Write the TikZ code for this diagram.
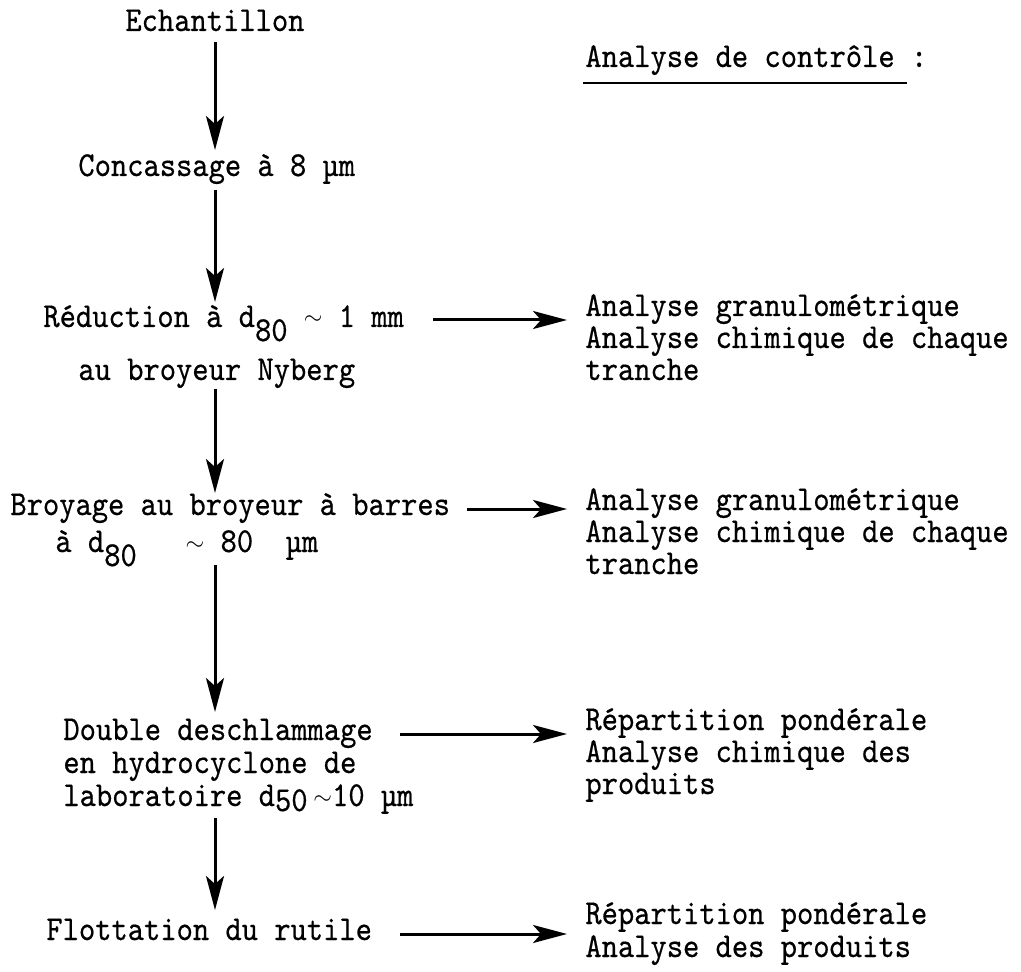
\documentclass[tikz,border=0pt]{standalone}
\usepackage{fontspec}
\setmonofont{lmmono10-regular.otf}[FakeStretch=0.886,FakeBold=0.5]
\usetikzlibrary{arrows.meta}
\newcommand\typefs{\ttfamily\fontsize{17.5}{18}\selectfont}
\newcommand\tld{\raisebox{1pt}{$\scriptstyle\sim$}}
\newcommand\sub[1]{\raisebox{-7pt}{#1}}
\tikzset{
  txt/.style={anchor=base west, inner sep=0pt, font=\typefs},
  arr/.style={line width=1.5pt, -{Stealth[length=17pt,width=9pt,inset=4pt]}},
}
\begin{document}
\begin{tikzpicture}[x=0.5pt,y=-0.5pt]
\useasboundingbox (0,0) rectangle (1021,972);
% left column
\node[txt] (ech) at (125,31) {Echantillon};
\node[txt] (conc) at (78,176) {Concassage à 8 µm};
\node[txt] (red) at (43,327) {Réduction à d\sub{80} \tld{} 1 mm};
\node[txt] (nyb) at (78,380) {au broyeur Nyberg};
\node[txt] (broy) at (10,515) {Broyage au broyeur à barres};
\node[txt] (broyb) at (55,552) {à d\sub{80}\ \ \ \tld\ 80\ \ µm};
\node[txt] (dbl) at (63,740) {Double deschlammage};
\node[txt] (dblb) at (63,773) {en hydrocyclone de};
\node[txt] (dblc) at (63,806) {laboratoire d\raisebox{-2.5pt}{50}\,\tld10 µm};
\node[txt] (flot) at (46,940) {Flottation du rutile};
% right column
\node[txt] (ctl) at (585,67) {Analyse de contrôle :};
\coordinate (ul1) at (583,83);
\coordinate (ul2) at (907,83);
\draw[line width=1pt] (ul1) -- (ul2);
\node[txt] (g1a) at (585,316) {Analyse granulométrique};
\node[txt] (g1b) at (585,348) {Analyse chimique de chaque};
\node[txt] (g1c) at (585,380) {tranche};
\node[txt] (g2a) at (585,510) {Analyse granulométrique};
\node[txt] (g2b) at (585,542) {Analyse chimique de chaque};
\node[txt] (g2c) at (585,574) {tranche};
\node[txt] (r1a) at (585,730) {Répartition pondérale};
\node[txt] (r1b) at (585,762) {Analyse chimique des};
\node[txt] (r1c) at (585,794) {produits};
\node[txt] (r2a) at (585,924) {Répartition pondérale};
\node[txt] (r2b) at (585,957) {Analyse des produits};
% vertical arrows
\coordinate (v1s) at (215,42);  \coordinate (v1e) at (215,150);
\coordinate (v2s) at (215,190); \coordinate (v2e) at (215,302);
\coordinate (v3s) at (215,389); \coordinate (v3e) at (215,493);
\coordinate (v4s) at (215,565); \coordinate (v4e) at (215,712);
\coordinate (v5s) at (215,818); \coordinate (v5e) at (215,910);
\draw[arr] (v1s) -- (v1e);
\draw[arr] (v2s) -- (v2e);
\draw[arr] (v3s) -- (v3e);
\draw[arr] (v4s) -- (v4e);
\draw[arr] (v5s) -- (v5e);
% horizontal arrows
\coordinate (h1s) at (433,320); \coordinate (h1e) at (567,320);
\coordinate (h2s) at (467,509); \coordinate (h2e) at (567,509);
\coordinate (h3s) at (400,734); \coordinate (h3e) at (567,734);
\coordinate (h4s) at (400,934); \coordinate (h4e) at (567,934);
\draw[arr] (h1s) -- (h1e);
\draw[arr] (h2s) -- (h2e);
\draw[arr] (h3s) -- (h3e);
\draw[arr] (h4s) -- (h4e);
\end{tikzpicture}
\end{document}
